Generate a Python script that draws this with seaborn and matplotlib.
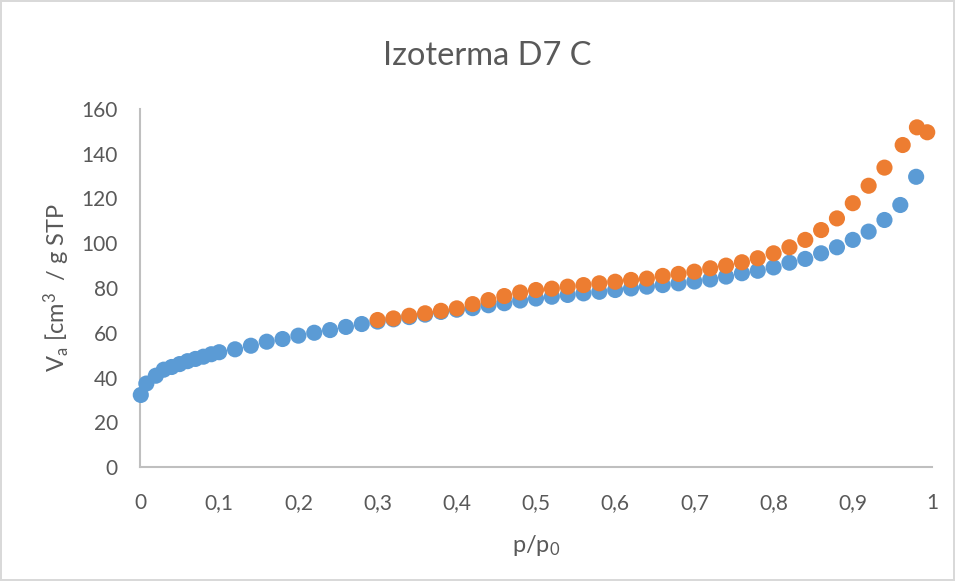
import matplotlib
matplotlib.use("Agg")
import pandas as pd
import seaborn as sns
import matplotlib.pyplot as plt
from matplotlib.ticker import FuncFormatter

# -----------------------------
# data read off the isotherm
# -----------------------------
p_ads = [0.001, 0.008, 0.02, 0.03, 0.04, 0.05, 0.06, 0.07, 0.08, 0.09, 0.10,
         0.12, 0.14, 0.16, 0.18, 0.20, 0.22, 0.24, 0.26, 0.28, 0.30,
         0.32, 0.34, 0.36, 0.38, 0.40, 0.42, 0.44, 0.46, 0.48, 0.50,
         0.52, 0.54, 0.56, 0.58, 0.60, 0.62, 0.64, 0.66, 0.68, 0.70,
         0.72, 0.74, 0.76, 0.78, 0.80, 0.82, 0.84, 0.86, 0.88, 0.90,
         0.92, 0.94, 0.96, 0.98]
v_ads = [32.2, 37.3, 40.8, 43.5, 44.7, 46.0, 47.3, 48.3, 49.3, 50.4, 51.3,
         52.6, 54.2, 56.0, 57.2, 58.7, 60.0, 61.2, 62.6, 63.9, 65.0,
         66.0, 67.0, 68.1, 69.3, 70.3, 71.0, 72.3, 73.2, 74.4, 75.3,
         76.1, 76.9, 77.6, 78.3, 79.1, 79.8, 80.6, 81.3, 82.1, 82.9,
         83.8, 85.1, 86.6, 87.7, 89.2, 91.3, 93.0, 95.5, 98.2, 101.5,
         105.2, 110.4, 117.1, 129.7]

p_des = [0.30, 0.32, 0.34, 0.36, 0.38, 0.40, 0.42, 0.44, 0.46, 0.48, 0.50,
         0.52, 0.54, 0.56, 0.58, 0.60, 0.62, 0.64, 0.66, 0.68, 0.70,
         0.72, 0.74, 0.76, 0.78, 0.80, 0.82, 0.84, 0.86, 0.88, 0.90,
         0.92, 0.94, 0.963, 0.981, 0.994]
v_des = [65.7, 66.4, 67.6, 68.7, 69.8, 70.9, 72.8, 74.6, 76.4, 78.0, 79.1,
         79.7, 80.6, 81.3, 82.1, 82.8, 83.6, 84.2, 85.4, 86.3, 87.3,
         88.8, 90.0, 91.5, 93.3, 95.5, 98.2, 101.5, 105.9, 111.1, 117.9,
         125.7, 133.8, 143.9, 151.8, 149.6]

x_ticks = [0, 0.1, 0.2, 0.3, 0.4, 0.5, 0.6, 0.7, 0.8, 0.9, 1.0]
y_ticks = [0, 20, 40, 60, 80, 100, 120, 140, 160]

ads = pd.DataFrame({"p": p_ads, "v": v_ads})
des = pd.DataFrame({"p": p_des, "v": v_des})

# -----------------------------
# style
# -----------------------------
sns.set_theme(style="white")
plt.rcParams["font.family"] = ["Lato", "DejaVu Sans"]
plt.rcParams["mathtext.default"] = "regular"
txt = "#595959"

fig = plt.figure(figsize=(9.55, 5.81), dpi=100)
fig.patch.set_edgecolor("#d9d9d9")
fig.patch.set_linewidth(1.5)
ax = fig.add_axes([0.1466, 0.1962, 0.8293, 0.6162])

sns.scatterplot(data=ads, x="p", y="v", ax=ax, color="#5B9BD5", s=135,
                edgecolor="none", clip_on=False, zorder=3)
sns.scatterplot(data=des, x="p", y="v", ax=ax, color="#ED7D31", s=135,
                edgecolor="none", clip_on=False, zorder=4)

ax.set_xlim(0, 1)
ax.set_ylim(0, 160)
ax.set_xticks(x_ticks)
ax.set_yticks(y_ticks)
ax.xaxis.set_major_formatter(FuncFormatter(lambda v, _: f"{v:g}".replace(".", ",")))
ax.tick_params(axis="both", length=0, labelsize=15, colors=txt)
ax.tick_params(axis="y", pad=16)
ax.tick_params(axis="x", pad=19)

for side in ["top", "right"]:
    ax.spines[side].set_visible(False)
for side in ["left", "bottom"]:
    ax.spines[side].set_color("#bfbfbf")
    ax.spines[side].set_linewidth(1.5)

ax.set_xlabel("p/p$_0$", fontsize=17, color=txt, labelpad=14)
ax.set_ylabel("V$_a$ [cm$^3$  / g STP", fontsize=17, color=txt, labelpad=7)
fig.suptitle("Izoterma D7 C", fontsize=23.5, color=txt, x=0.51, y=0.93)

fig.savefig("out.png", dpi=100)
